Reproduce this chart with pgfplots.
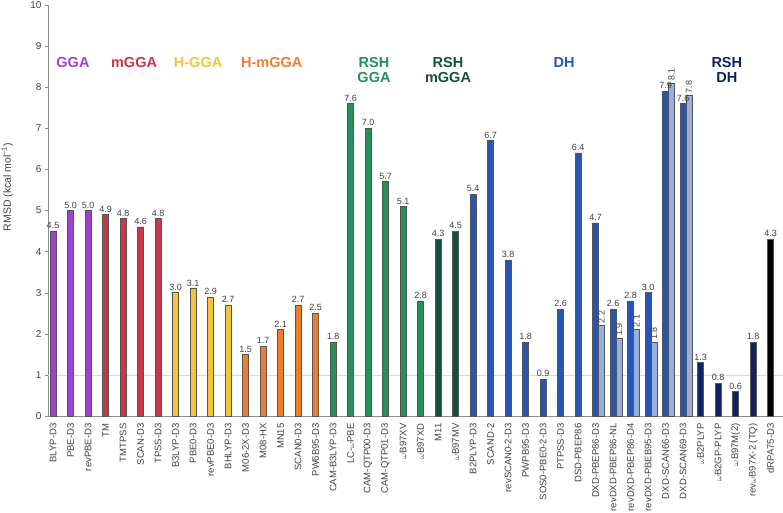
\documentclass[border=0pt]{standalone}
\usepackage{fontspec}
\setmainfont{Liberation Sans}
\usepackage{pgfplots}
\pgfplotsset{compat=1.18}
\definecolor{cGGA}{HTML}{A040D0}
\definecolor{cMGGA}{HTML}{C8374B}
\definecolor{cHGGA}{HTML}{F5C33C}
\definecolor{cHMGGA}{HTML}{F07D2D}
\definecolor{cRSH}{HTML}{23915A}
\definecolor{cRSHM}{HTML}{14503C}
\definecolor{cDH}{HTML}{2855B4}
\definecolor{cDHL}{HTML}{96AFDC}
\definecolor{cRSHDH}{HTML}{0F2364}
\definecolor{txt}{HTML}{404040}
\definecolor{edge}{HTML}{555555}
\begin{document}
\begin{tikzpicture}
\useasboundingbox (-48pt,-97pt) rectangle (735pt,416pt);
\begin{axis}[
  scale only axis, width=735pt, height=411pt,
  xmin=-0.286, xmax=41.71, ymin=0, ymax=10,
  axis x line*=bottom, axis y line*=left,
  axis line style={draw=black!45},
  ytick={0,...,10},
  xtick={0,...,41},
  xticklabels={BLYP-D3,PBE-D3,revPBE-D3,TM,TMTPSS,SCAN-D3,TPSS-D3,B3LYP-D3,PBE0-D3,revPBE0-D3,BHLYP-D3,M06-2X-D3,M08-HX,MN15,SCAN0-D3,PW6B95-D3,CAM-B3LYP-D3,LC-$\omega$PBE,CAM-QTP00-D3,CAM-QTP01-D3,$\omega$B97XV,$\omega$B97XD,M11,$\omega$B97MV,B2PLYP-D3,SCAND-2,revSCAN0-2-D3,PWPB95-D3,SOS0-PBE0-2-D3,PTPSS-D3,DSD-PBEP86,DXD-PBEP86-D3,revDXD-PBEP86-NL,revDXD-PBEP86-D4,revDXD-PBEB95-D3,DXD-SCAN66-D3,DXD-SCAN69-D3,$\omega$B2PLYP,$\omega$B2GP-PLYP,$\omega$B97M(2),rev$\omega$B97X-2 (TQ),dRPA75-D3},
  x tick style={draw=none},
  y tick style={draw=black!45},
  tick align=outside, major tick length=3pt,
  /pgf/number format/assume math mode=true,
  yticklabel style={font=\fontsize{10}{12}\selectfont, text=txt},
  xticklabel style={rotate=90, anchor=east, font=\fontsize{9.5}{11}\selectfont, text=txt, xshift=-1pt},
  ylabel={RMSD (kcal mol\textsuperscript{−1})},
  ylabel style={at={(axis description cs:-0.0505,0.557)}, anchor=base, rotate=0, font=\fontsize{10.5}{12}\selectfont, text=txt},
  extra y ticks={1}, extra y tick labels={},
  extra y tick style={grid=major, major grid style={draw=black!15, line width=0.5pt}},
  every axis plot/.append style={ybar, bar width=0.343, bar shift=0, draw=edge, line width=0.5pt},
  nodes near coords={\pgfmathprintnumber[fixed,fixed zerofill,precision=1,assume math mode=true]{\pgfplotspointmeta}},
  every node near coord/.append style={font=\fontsize{9}{10}\selectfont, text=txt, inner sep=2pt},
  clip=false,
]
\addplot[fill=cGGA] coordinates {(0,4.5) (1,5.0) (2,5.0)};
\addplot[fill=cMGGA] coordinates {(3,4.9) (4,4.8) (5,4.6) (6,4.8)};
\addplot[fill=cHGGA] coordinates {(7,3.0) (8,3.1) (9,2.9) (10,2.7)};
\addplot[fill=cHMGGA] coordinates {(11,1.5) (12,1.7) (13,2.1) (14,2.7) (15,2.5)};
\addplot[fill=cRSH] coordinates {(16,1.8) (17,7.6) (18,7.0) (19,5.7) (20,5.1) (21,2.8)};
\addplot[fill=cRSHM] coordinates {(22,4.3) (23,4.5)};
\addplot[fill=cDH] coordinates {(24,5.4) (25,6.7) (26,3.8) (27,1.8) (28,0.9) (29,2.6) (30,6.4) (31,4.7) (32,2.6) (33,2.8) (34,3.0) (35,7.9) (36,7.6)};
\addplot[fill=cDHL, every node near coord/.append style={rotate=90, anchor=west}] coordinates {(31.343,2.2) (32.343,1.9) (33.343,2.1) (34.343,1.8) (35.343,8.1) (36.343,7.8)};
\addplot[fill=cRSHDH] coordinates {(37,1.3) (38,0.8) (39,0.6) (40,1.8)};
\addplot[fill=black] coordinates {(41,4.3)};
\begin{scope}[font=\fontsize{14.5}{16}\selectfont\bfseries, align=center]
\node[text=cGGA] at (axis cs:1.14,8.61) {GGA};
\node[text=cMGGA] at (axis cs:4.63,8.61) {mGGA};
\node[text=cHGGA] at (axis cs:8.29,8.61) {H-GGA};
\node[text=cHMGGA] at (axis cs:12.5,8.61) {H-mGGA};
\node[text=cRSH] at (axis cs:18.34,8.42) {RSH\\[-1pt]GGA};
\node[text=cRSHM] at (axis cs:22.57,8.42) {RSH\\[-1pt]mGGA};
\node[text=cDH] at (axis cs:29.2,8.61) {DH};
\node[text=cRSHDH] at (axis cs:38.5,8.42) {RSH\\[-1pt]DH};
\end{scope}
\end{axis}
\end{tikzpicture}
\end{document}
